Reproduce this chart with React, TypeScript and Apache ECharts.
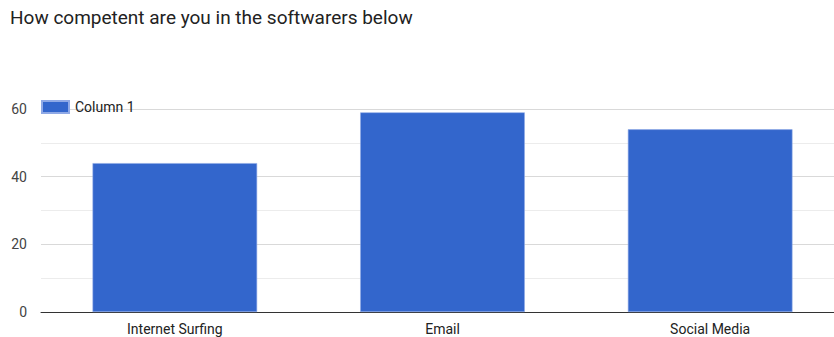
import React, { useEffect, useRef } from "react";
import * as echarts from "echarts";

const categories = ["Internet Surfing", "Email", "Social Media"];
const column1 = [44, 59, 54];
const seriesName = "Column 1";
const titleText = "How competent are you in the softwarers below";

export default function App() {
  const ref = useRef<HTMLDivElement>(null);
  useEffect(() => {
    if (!ref.current) return;
    const chart = echarts.init(ref.current, null, { renderer: "svg" });
    chart.setOption({
      animation: false,
      backgroundColor: "#ffffff",
      title: {
        text: titleText,
        left: 10,
        top: 8,
        padding: 0,
        textStyle: { fontFamily: "Roboto", fontSize: 19, fontWeight: "normal", color: "#222222" },
      },
      legend: {
        left: 41,
        top: 100,
        itemWidth: 27,
        itemHeight: 12,
        itemGap: 6,
        icon: "rect",
        textStyle: { fontFamily: "Roboto", fontSize: 14, color: "#222222", padding: [0, 0, 0, 1] },
        padding: 0,
      },
      grid: { left: 41, right: 16, top: 109, bottom: 25, containLabel: false },
      xAxis: {
        type: "category",
        data: categories,
        axisLine: { lineStyle: { color: "#333333", width: 1 } },
        axisTick: { show: false },
        axisLabel: { fontFamily: "Roboto", fontSize: 14, color: "#222222", margin: 10 },
      },
      yAxis: {
        type: "value",
        min: 0,
        max: 60,
        interval: 20,
        axisLine: { show: false },
        axisTick: { show: false },
        axisLabel: { fontFamily: "Roboto", fontSize: 14, color: "#444444", margin: 14 },
        splitLine: { lineStyle: { color: "#d9d9d9", width: 1 } },
        minorTick: { show: false, splitNumber: 2 },
        minorSplitLine: { show: true, lineStyle: { color: "#ececec", width: 1 } },
      },
      series: [
        {
          name: seriesName,
          type: "bar",
          data: column1,
          barWidth: "61.5%",
          itemStyle: { color: "#3366cc", borderColor: "#8fa9e6", borderWidth: 0.6 },
        },
      ],
    });
    return () => chart.dispose();
  }, []);
  return (
    <div style={{ width: 834, height: 337, position: "absolute", left: 0, top: 0, overflow: "hidden", background: "#fff" }}>
      <div ref={ref} style={{ width: 860, height: 337 }} />
    </div>
  );
}
